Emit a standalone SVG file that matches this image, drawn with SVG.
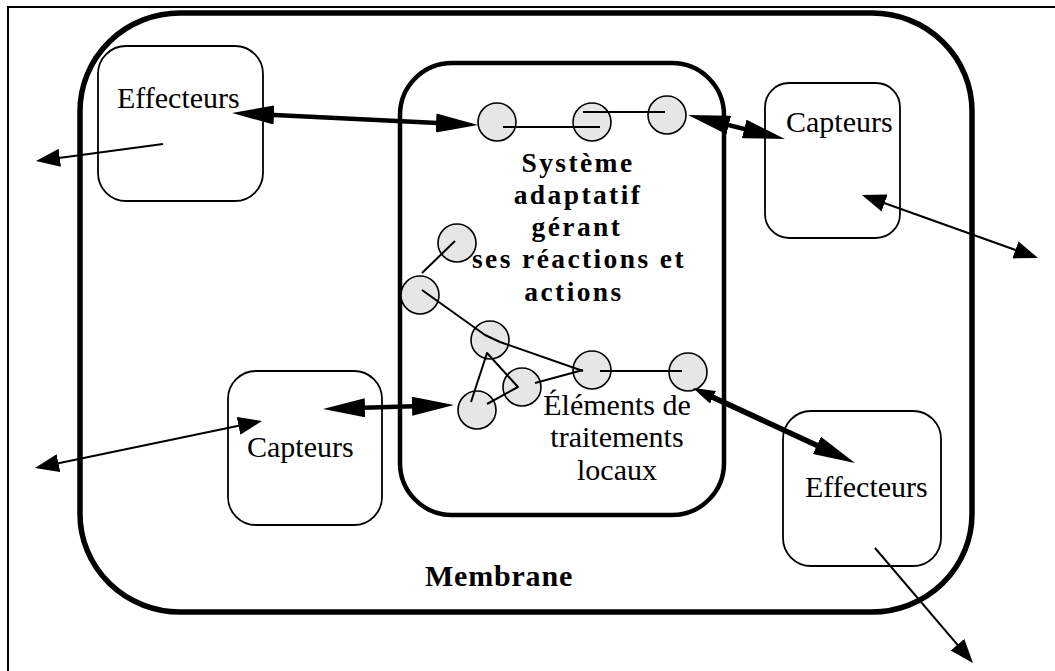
<svg xmlns="http://www.w3.org/2000/svg" width="1055" height="671" viewBox="0 0 1055 671">
  <style>
    .frame { fill: none; stroke: #000; stroke-width: 2; }
    .membrane { fill: #fff; stroke: #000; stroke-width: 5.5; }
    .system { fill: #fff; stroke: #000; stroke-width: 4.5; }
    .box { fill: #fff; stroke: #000; stroke-width: 1.8; }
    .cell { fill: #e6e6e6; stroke: #000; stroke-width: 1.6; }
    .link { fill: none; stroke: #000; stroke-width: 2; stroke-linejoin: round; }
    .thick { fill: none; stroke: #000; stroke-width: 4.5; }
    .thicker { fill: none; stroke: #000; stroke-width: 5.5; }
    .thin { fill: none; stroke: #000; stroke-width: 2; }
    .lbl { font-family: "Liberation Serif", "Times New Roman", serif; font-size: 30px; fill: #000; }
    .title { font-family: "Liberation Serif", "Times New Roman", serif; font-size: 27.5px; font-weight: bold; letter-spacing: 2.4px; fill: #000; text-anchor: middle; }
    .mem { font-family: "Liberation Serif", "Times New Roman", serif; font-size: 30px; font-weight: bold; letter-spacing: 0.8px; fill: #000; }
  </style>
  <defs>
    <!-- heavy arrowhead for thick connectors; line ends 15px short of the tip -->
    <marker id="headBig" markerUnits="userSpaceOnUse" viewBox="0 -9.5 42 19" refX="27" refY="0" markerWidth="42" markerHeight="19" orient="auto-start-reverse">
      <path d="M0,-9.5 L42,0 L0,9.5 z" fill="#000"/>
    </marker>
    <marker id="headMid" markerUnits="userSpaceOnUse" viewBox="0 -7 22 14" refX="14" refY="0" markerWidth="22" markerHeight="14" orient="auto-start-reverse">
      <path d="M0,-7 L22,0 L0,7 z" fill="#000"/>
    </marker>
    <!-- light arrowhead for thin connectors; line ends 8px short of the tip -->
    <marker id="headSmall" markerUnits="userSpaceOnUse" viewBox="0 -9 24 18" refX="16" refY="0" markerWidth="24" markerHeight="18" orient="auto-start-reverse">
      <path d="M0,-9 L24,0 L0,9 z" fill="#000"/>
    </marker>
  </defs>

  <rect width="1055" height="671" fill="#fff"/>
  <path class="frame" d="M8,671 V7 H1055"/>

  <g id="membrane">
    <rect class="membrane" x="80" y="13" width="892" height="599" rx="100" ry="98"/>
    <text class="mem" x="425" y="586">Membrane</text>
  </g>

  <g id="effecteurs-gauche">
    <rect class="box" x="98" y="46" width="165" height="155" rx="28"/>
    <text class="lbl" x="117" y="108">Effecteurs</text>
  </g>

  <g id="capteurs-droite">
    <rect class="box" x="765" y="83" width="135" height="155" rx="24"/>
    <text class="lbl" x="786" y="132">Capteurs</text>
  </g>

  <g id="capteurs-gauche">
    <rect class="box" x="228" y="371" width="154" height="154" rx="28"/>
    <text class="lbl" x="247" y="457">Capteurs</text>
  </g>

  <g id="effecteurs-droite">
    <rect class="box" x="783" y="411" width="158" height="155" rx="28"/>
    <text class="lbl" x="805" y="497">Effecteurs</text>
  </g>

  <g id="systeme">
    <rect class="system" x="400" y="63" width="324" height="452" rx="52"/>
    <text class="title" x="578" y="172">Système</text>
    <text class="title" x="578" y="204">adaptatif</text>
    <text class="title" x="577" y="236">gérant</text>
    <text class="title" x="579" y="268">ses réactions et</text>
    <text class="title" x="574" y="301">actions</text>
    <text class="lbl" x="617" y="415" text-anchor="middle">Éléments de</text>
    <text class="lbl" x="617" y="447" text-anchor="middle">traitements</text>
    <text class="lbl" x="617" y="480" text-anchor="middle">locaux</text>
  </g>

  <!-- local processing elements -->
  <g id="cellules">
    <circle id="c1" class="cell" cx="497" cy="122" r="19"/>
    <circle id="c2" class="cell" cx="592" cy="122" r="19"/>
    <circle id="c3" class="cell" cx="667" cy="115" r="19"/>
    <circle id="c4" class="cell" cx="457" cy="243" r="19"/>
    <circle id="c5" class="cell" cx="420" cy="295" r="19"/>
    <circle id="c6" class="cell" cx="490" cy="340" r="19"/>
    <circle id="c7" class="cell" cx="522" cy="387" r="19"/>
    <circle id="c8" class="cell" cx="477" cy="410" r="19"/>
    <circle id="c9" class="cell" cx="592" cy="370" r="19"/>
    <circle id="c10" class="cell" cx="688" cy="372" r="19"/>
  </g>

  <g id="connecteurs">
    <!-- links between cells -->
    <path class="link" d="M503,127 H600"/>
    <path class="link" d="M583,112 H665"/>
    <path class="link" d="M455,241 L422,273"/>
    <path class="link" d="M422,290 L485,335 L500,342 L583,371"/>
    <path class="link" d="M471,402 L487,353 L518,387 L487,404"/>
    <path class="link" d="M535,383 L583,370"/>
    <path class="link" d="M600,371 H682"/>

    <!-- heavy exchanges between the system and its sensors / effectors -->
    <line class="thick" x1="247" y1="113.7" x2="463" y2="124.3" marker-start="url(#headBig)" marker-end="url(#headBig)"/>
    <line class="thick" x1="702.6" y1="118.6" x2="770.4" y2="135.4" marker-start="url(#headBig)" marker-end="url(#headBig)"/>
    <line class="thick" x1="338" y1="408.5" x2="439" y2="405.5" marker-start="url(#headBig)" marker-end="url(#headBig)"/>
    <line class="thicker" x1="700.3" y1="391.4" x2="841.4" y2="456.7" marker-start="url(#headMid)" marker-end="url(#headBig)"/>

    <!-- exchanges with the outside -->
    <line class="thin" x1="163" y1="144" x2="43.9" y2="159.9" marker-end="url(#headSmall)"/>
    <line class="thin" x1="869.5" y1="197.7" x2="1030.5" y2="255.3" marker-start="url(#headSmall)" marker-end="url(#headSmall)"/>
    <line class="thin" x1="42.8" y1="466.4" x2="254.2" y2="422.6" marker-start="url(#headSmall)" marker-end="url(#headSmall)"/>
    <line class="thin" x1="875" y1="548" x2="967.8" y2="656.9" marker-end="url(#headSmall)"/>
  </g>
</svg>
